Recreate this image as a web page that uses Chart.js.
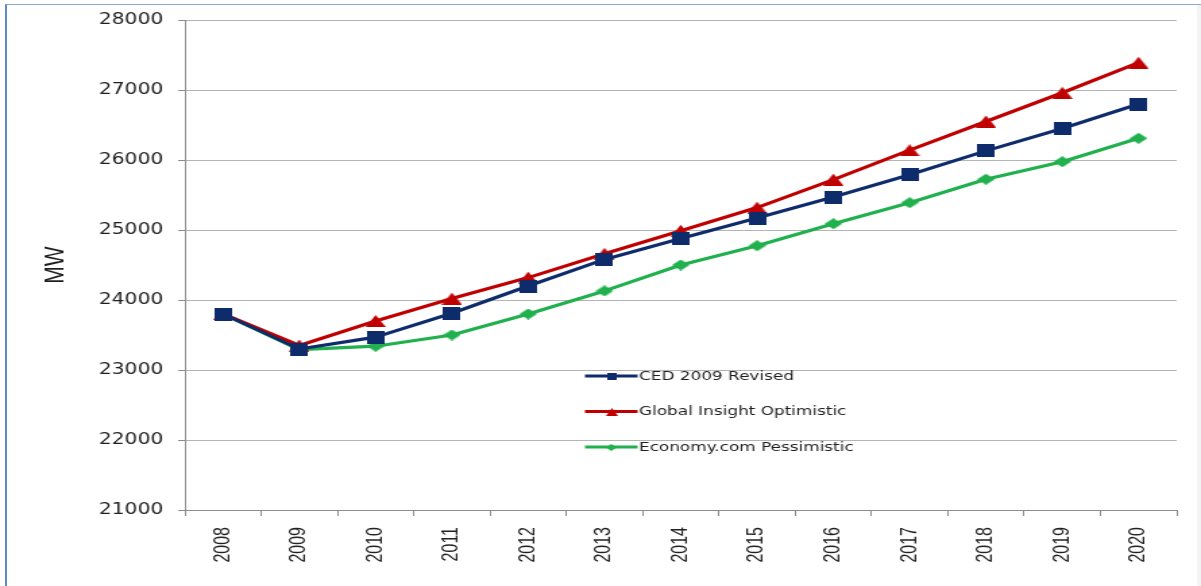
<!DOCTYPE html>
<html>
<head>
<meta charset="utf-8">
<title>Peak demand forecast (MW)</title>
<script src="https://cdn.jsdelivr.net/npm/chart.js@4.4.1/dist/chart.umd.min.js"></script>
<style>
  html, body { margin: 0; padding: 0; background: #ffffff; }
  #wrap { position: relative; width: 1201px; height: 586px; overflow: hidden; background: #ffffff; }
  /* the drawing surface is rendered narrower and widened by CSS, giving the wide lettering of the original slide */
  #c { position: absolute; left: 0; top: 0; width: 1201px !important; height: 586px !important; }
  #edge { position: absolute; right: 0; top: 5px; bottom: 0; width: 4px; background: #f4f4f4; }
  #frame { position: absolute; left: 5px; top: 4px; right: 0; bottom: 0;
           border-left: 2px solid #5f8bc6; border-top: 1px solid #8ba8d0; pointer-events: none; }
</style>
</head>
<body>
<div id="wrap">
  <canvas id="c" width="890" height="586"></canvas>
  <div id="edge"></div>
  <div id="frame"></div>
</div>
<script>
// Forecast years
const years = ['2008', '2009', '2010', '2011', '2012', '2013', '2014',
               '2015', '2016', '2017', '2018', '2019', '2020'];

// Peak demand, MW
const cedRevised = [23800, 23300, 23470, 23810, 24200, 24580, 24880,
                    25170, 25470, 25790, 26130, 26450, 26800];
const globalInsightOptimistic = [23800, 23350, 23700, 24020, 24320, 24660, 24990,
                                 25320, 25720, 26140, 26550, 26960, 27390];
const economyPessimistic = [23800, 23290, 23340, 23500, 23800, 24130, 24500,
                            24775, 25090, 25390, 25725, 25975, 26310];

// Value axis tick labels
const yTickValues = [21000, 22000, 23000, 24000, 25000, 26000, 27000, 28000];

const seriesNames = ['CED 2009 Revised', 'Global Insight Optimistic', 'Economy.com Pessimistic'];

const NAVY = '#0e2b6b';
const RED = '#c00000';
const GREEN = '#20b04d';

// Marker bitmaps, centred on their points
function makeMarker(shape, w, h, color) {
  const cv = document.createElement('canvas');
  cv.width = w; cv.height = h;
  const g = cv.getContext('2d');
  g.fillStyle = color;
  g.beginPath();
  if (shape === 'square') {
    g.rect(0, 0, w, h);
  } else if (shape === 'triangle') {
    g.moveTo(w / 2, 0); g.lineTo(w, h); g.lineTo(0, h); g.closePath();
  } else {
    g.moveTo(w / 2, 0); g.lineTo(w, h / 2); g.lineTo(w / 2, h); g.lineTo(0, h / 2); g.closePath();
  }
  g.fill();
  return cv;
}

const markers = [
  makeMarker('square', 13, 13, NAVY),
  makeMarker('triangle', 15, 12, RED),
  makeMarker('diamond', 13, 11, GREEN)
];
const legendMarkers = [
  makeMarker('square', 7, 7, NAVY),
  makeMarker('triangle', 9, 8, RED),
  makeMarker('diamond', 8, 7, GREEN)
];

// Legend drawn inside the plot, below the lines
const insideLegend = {
  id: 'insideLegend',
  afterDatasetsDraw(chart, args, opts) {
    const ctx = chart.ctx;
    ctx.save();
    ctx.font = opts.font;
    ctx.textBaseline = 'middle';
    ctx.textAlign = 'left';
    chart.data.datasets.forEach((ds, i) => {
      const y = opts.top + i * opts.rowGap;
      const x0 = opts.left;
      const x1 = x0 + opts.lineLength;
      ctx.strokeStyle = ds.borderColor;
      ctx.lineWidth = 3;
      ctx.beginPath();
      ctx.moveTo(x0, y);
      ctx.lineTo(x1, y);
      ctx.stroke();
      const m = legendMarkers[i];
      ctx.drawImage(m, Math.round((x0 + x1) / 2 - m.width / 2), Math.round(y - m.height / 2));
      ctx.fillStyle = '#1e1e1e';
      ctx.fillText(ds.label, x1 + 1, y + 0.5);
    });
    ctx.restore();
  }
};

const chart = new Chart(document.getElementById('c'), {
  type: 'line',
  data: {
    labels: years,
    datasets: [
      { label: seriesNames[0], data: cedRevised, borderColor: NAVY, backgroundColor: NAVY,
        pointStyle: markers[0] },
      { label: seriesNames[1], data: globalInsightOptimistic, borderColor: RED, backgroundColor: RED,
        pointStyle: markers[1] },
      { label: seriesNames[2], data: economyPessimistic, borderColor: GREEN, backgroundColor: GREEN,
        pointStyle: markers[2] }
    ]
  },
  options: {
    responsive: false,
    animation: false,
    devicePixelRatio: 1,
    layout: { padding: { top: 17, right: 18, bottom: 0, left: 0 } },
    elements: {
      line: { borderWidth: 3.2, tension: 0, borderJoinStyle: 'round', fill: false },
      point: { radius: 6, hoverRadius: 6, borderWidth: 0 }
    },
    plugins: {
      legend: { display: false },
      tooltip: { enabled: false },
      insideLegend: {
        left: 433.5, top: 376, rowGap: 35.5, lineLength: 39,
        font: '12.5px "DejaVu Sans", sans-serif'
      }
    },
    scales: {
      x: {
        type: 'category',
        offset: true,
        border: { display: true, color: '#8c8c8c', width: 1 },
        grid: { offset: true, drawOnChartArea: false, drawTicks: true, tickLength: 6,
                tickColor: '#8c8c8c', color: '#8c8c8c' },
        ticks: {
          minRotation: 90, maxRotation: 90, autoSkip: false, padding: 11,
          color: '#222222',
          font: { family: '"Liberation Sans", Arial, sans-serif', size: 16 }
        },
        afterFit(scale) { scale.height = 76; }
      },
      y: {
        min: 21000, max: 28000,
        border: { display: true, color: '#8c8c8c', width: 1 },
        grid: { color: '#b4b4b4', lineWidth: 1, drawTicks: true, tickLength: 5, tickColor: '#8c8c8c' },
        afterBuildTicks(scale) { scale.ticks = yTickValues.map(v => ({ value: v })); },
        ticks: {
          padding: 11,
          color: '#1e1e1e',
          font: { family: '"DejaVu Sans", Verdana, sans-serif', size: 15 },
          callback: v => String(v)
        },
        title: {
          display: true, text: 'MW', color: '#1e1e1e',
          font: { family: '"Liberation Sans", Arial, sans-serif', size: 21 },
          padding: { top: 29, bottom: 0 }
        },
        afterFit(scale) { scale.width = 137; }
      }
    }
  },
  plugins: [insideLegend]
});
</script>
</body>
</html>
